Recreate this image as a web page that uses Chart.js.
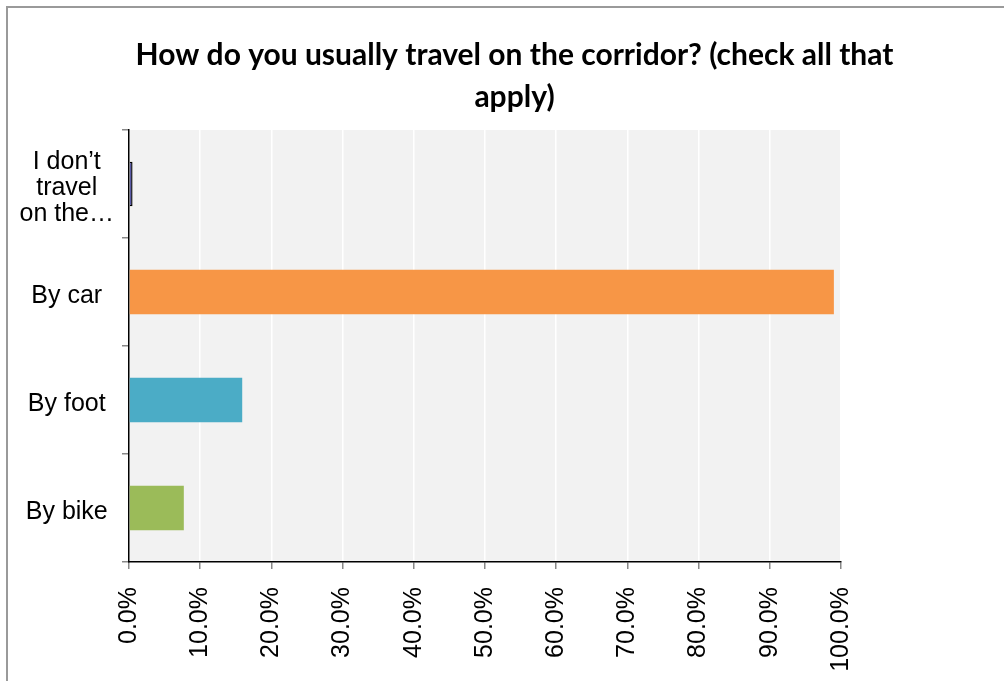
<!DOCTYPE html>
<html>
<head>
<meta charset="utf-8">
<script src="https://cdn.jsdelivr.net/npm/chart.js@4"></script>
<style>
  html, body { margin: 0; padding: 0; background: #fff; width: 1004px; height: 681px; overflow: hidden; }
  #wrap { width: 1029px; height: 681px; position: relative; }
</style>
</head>
<body>
<div id="wrap"><canvas id="myChart"></canvas></div>
<script>
const categories = [['I don\u2019t', 'travel', 'on the\u2026'], 'By car', 'By foot', 'By bike'];
const shares = [0.5, 99.0, 15.9, 7.7];
const barColors = ['#5b5ba8', '#f79646', '#4bacc6', '#9bbb59'];
const barBorders = ['#000000', '#f79646', '#4bacc6', '#9bbb59'];
const titleLines = ['How do you usually travel on the corridor? (check all that', 'apply)'];

// grey plot background plus the outer frame line
const plotBackground = {
  id: 'plotBackground',
  beforeDraw(chart) {
    const { ctx, chartArea } = chart;
    ctx.save();
    ctx.fillStyle = '#f2f2f2';
    ctx.fillRect(chartArea.left, chartArea.top, chartArea.right - chartArea.left, chartArea.bottom - chartArea.top);
    ctx.strokeStyle = '#9a9a9a';
    ctx.lineWidth = 2;
    ctx.strokeRect(7, 7, 1200, 1200);
    ctx.restore();
  }
};

const ctx = document.getElementById('myChart');

new Chart(ctx, {
  type: 'bar',
  data: {
    labels: categories,
    datasets: [{
      data: shares,
      backgroundColor: barColors,
      borderColor: barBorders,
      borderWidth: [1.5, 0, 0, 0],
      barPercentage: 0.41,
      categoryPercentage: 1.0
    }]
  },
  options: {
    indexAxis: 'y',
    responsive: true,
    maintainAspectRatio: false,
    animation: false,
    layout: { padding: 0 },
    plugins: {
      legend: { display: false },
      tooltip: { enabled: false },
      title: {
        display: true,
        text: titleLines,
        color: '#000',
        font: { family: 'Lato', size: 30, weight: 'bold', lineHeight: 1.4 },
        padding: { top: 34, bottom: 12 }
      }
    },
    scales: {
      x: {
        min: 0,
        max: 100,
        ticks: {
          stepSize: 10,
          minRotation: 90,
          maxRotation: 90,
          padding: 18,
          color: '#000',
          font: { family: 'Liberation Sans', size: 25 },
          callback: v => v.toFixed(1) + '%'
        },
        grid: {
          color: '#ffffff',
          lineWidth: 1.5,
          tickColor: '#888',
          tickLength: 7
        },
        border: { color: '#000', width: 1.5 },
        afterFit(s) { s.height = 119; }
      },
      y: {
        ticks: {
          crossAlign: 'center',
          padding: 8,
          labelOffset: 4,
          color: '#000',
          font: { family: 'Liberation Sans', size: 25, lineHeight: 1.04 }
        },
        grid: {
          offset: true,
          drawOnChartArea: false,
          tickColor: '#888',
          tickLength: 7,
          lineWidth: 1.5
        },
        border: { color: '#000', width: 1.5 },
        afterFit(s) { s.width = 129; }
      },
      // empty right-hand axis that reserves the blank strip right of the plot
      spacer: {
        type: 'linear',
        position: 'right',
        display: true,
        grid: { display: false },
        border: { display: false },
        ticks: { display: false },
        afterFit(s) { s.width = 188; }
      }
    }
  },
  plugins: [plotBackground]
});
</script>
</body>
</html>
